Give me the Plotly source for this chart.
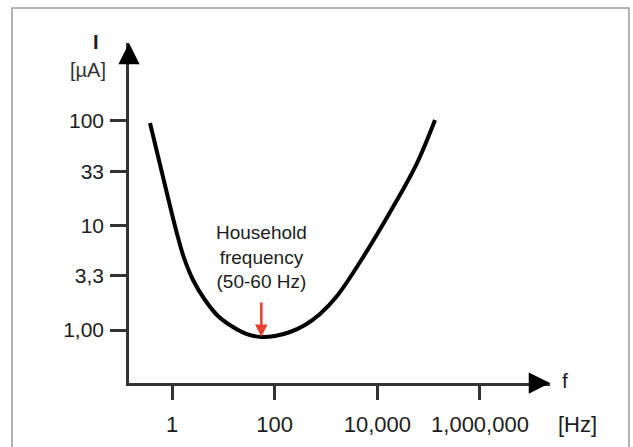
import plotly.graph_objects as go
import math

# Data
freq_hz = [0.3726, 0.668, 1.197, 1.713, 2.566, 4.40, 7.87, 15.4, 28.9, 54.2,
           101.5, 199, 390, 764, 1639, 4598, 20210, 59300, 133000]
current_ua = [95.7, 29.1, 9.06, 4.89, 3.01, 1.937, 1.361, 1.068, 0.915, 0.857,
              0.876, 0.957, 1.116, 1.422, 2.116, 4.47, 15.03, 39.6, 102.2]

x_tick_vals = [1, 100, 10000, 1000000]
x_tick_text = ["1", "100", "10,000", "1,000,000"]
y_tick_vals = [100, 33, 10, 3.3, 1]
y_tick_text = ["100", "33", "10", "3,3", "1,00"]

household_f = 55
household_i = 0.857
household_label_i = 5.0
household_label = "Household<br>frequency<br>(50-60 Hz)"

FONT = "Liberation Sans, Arial, sans-serif"
AX = "#333333"
TXT = "#1c1c1c"

fig = go.Figure()
fig.add_trace(go.Scatter(
    x=freq_hz, y=current_ua, mode="lines",
    line=dict(color="black", width=4, shape="spline", smoothing=1.0),
    hoverinfo="skip", showlegend=False,
))

fig.update_layout(
    width=633, height=447,
    margin=dict(l=129, r=83, t=43, b=64, autoexpand=False),
    paper_bgcolor="white", plot_bgcolor="white",
    font=dict(family=FONT, color=TXT),
    xaxis=dict(
        type="log", range=[-0.838, 7.364], automargin=False,
        tickvals=x_tick_vals, ticktext=x_tick_text,
        ticks="outside", ticklen=14, tickwidth=2.5, tickcolor=AX,
        showline=True, linecolor=AX, linewidth=2.5,
        showgrid=False, zeroline=False,
        tickfont=dict(size=22, color=TXT),
        ticklabelstandoff=6,
    ),
    yaxis=dict(
        type="log", range=[-0.507, 2.746], automargin=False,
        tickvals=y_tick_vals, ticktext=y_tick_text,
        ticks="outside", ticklen=16, tickwidth=2.5, tickcolor=AX,
        showline=True, linecolor=AX, linewidth=2.5,
        showgrid=False, zeroline=False,
        tickfont=dict(size=21, color=TXT),
        ticklabelstandoff=2,
    ),
    shapes=[dict(type="rect", xref="paper", yref="paper",
                 x0=-0.278, x1=1.1876, y0=-0.3, y1=1.103,
                 line=dict(color="#9a9a9a", width=1.5), layer="below")],
)

annotations = [
    # axis arrowheads
    dict(xref="paper", yref="paper", x=1, y=0, ax=-22, ay=0,
         showarrow=True, arrowhead=2, arrowsize=1.7, arrowwidth=2.5,
         arrowcolor="black", text=""),
    dict(xref="paper", yref="paper", x=0, y=1, ax=0, ay=22,
         showarrow=True, arrowhead=2, arrowsize=1.7, arrowwidth=2.5,
         arrowcolor="black", text=""),
    # axis labels
    dict(xref="paper", yref="paper", x=-0.078, y=1.004, text="<b>I</b>",
         xanchor="center", yanchor="middle", showarrow=False,
         font=dict(size=20, color=TXT)),
    dict(xref="paper", yref="paper", x=-0.097, y=0.92, text="[µA]",
         xanchor="center", yanchor="middle", showarrow=False,
         font=dict(size=20, color="#333333")),
    dict(xref="paper", yref="paper", x=1.0356, y=0.006, text="f",
         xanchor="center", yanchor="middle", showarrow=False,
         font=dict(size=21, color=TXT)),
    dict(xref="paper", yref="paper", x=1.0665, y=-0.1235, text="[Hz]",
         xanchor="center", yanchor="middle", showarrow=False,
         font=dict(size=22, color=TXT)),
    # household annotation text
    dict(x=math.log10(household_f), y=math.log10(household_label_i),
         text=household_label, xanchor="center", yanchor="middle",
         showarrow=False, font=dict(size=19, color=TXT)),
    # red arrow pointing to the minimum
    dict(x=math.log10(household_f), y=math.log10(household_i), ax=0, ay=-36,
         showarrow=True, arrowhead=2, arrowsize=1.0, arrowwidth=2.5,
         arrowcolor="#e8402e", text=""),
]
fig.update_layout(annotations=annotations)

fig.write_html("out.html")
